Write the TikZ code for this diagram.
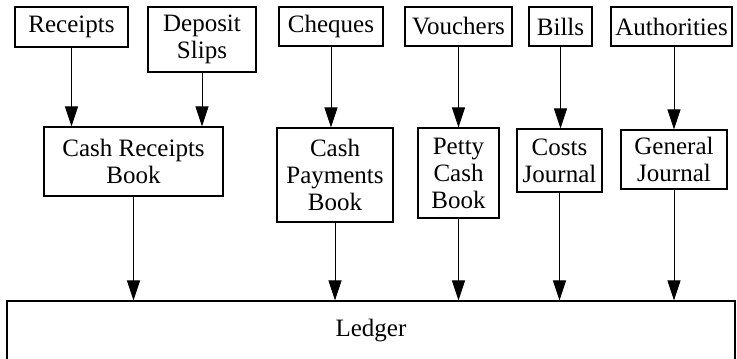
\documentclass[tikz,border=0pt]{standalone}
\usepackage{fontspec}
\setmainfont{Liberation Serif}
\usepackage{tikz}
\usetikzlibrary{arrows.meta}

\begin{document}
\begin{tikzpicture}[x=1pt, y=-1pt, >={Triangle[length=20pt,width=13pt]},
	every node/.style={draw, line width=1.1pt, align=center, inner sep=3pt, font=\fontsize{25}{27}\selectfont}]
				\useasboundingbox (0,0) rectangle (737,359);
				% source documents
				\node[minimum width=113pt, minimum height=40pt] (Receipts) at (71.5,27) {Receipts};
				\node[minimum width=108pt, minimum height=65pt] (Deposit) at (202,39.5) {Deposit\\Slips};
				\node[minimum width=104pt, minimum height=39pt] (Cheques) at (331,26.5) {Cheques};
				\node[minimum width=107pt, minimum height=39pt] (Vouchers) at (458.5,26.5) {Vouchers};
				\node[minimum width=63pt, minimum height=39pt] (Bills) at (560.5,26.5) {Bills};
				\node[minimum width=121pt, minimum height=39pt] (Auth) at (671.5,26.5) {Authorities};
				% books of original entry
				\node[minimum width=179pt, minimum height=69pt] (CRB) at (133.5,161.5) {Cash Receipts\\Book};
				\node[minimum width=116pt, minimum height=94pt] (CPB) at (335,175) {Cash\\Payments\\Book};
				\node[minimum width=81pt, minimum height=90pt] (PCB) at (458.5,173) {Petty\\Cash\\Book};
				\node[minimum width=85pt, minimum height=63pt] (CJ) at (559.5,160.5) {Costs\\Journal};
				\node[minimum width=106pt, minimum height=59pt] (GJ) at (674,159.5) {General\\Journal};
				% ledger
				\node[minimum width=728pt, minimum height=60pt] (Ledger) at (371,331) {Ledger};
				\draw[->, line width=0.9pt] (Receipts.south) -- (Receipts.south |- CRB.north);
				\draw[->, line width=0.9pt] (Deposit.south) -- (Deposit.south |- CRB.north);
				\draw[->, line width=0.9pt] (Cheques.south) -- (Cheques.south |- CPB.north);
				\draw[->, line width=0.9pt] (Vouchers) -- (PCB);
				\draw[->, line width=0.9pt] (Bills.south) -- (Bills.south |- CJ.north);
				\draw[->, line width=0.9pt] (GJ.north |- Auth.south) -- (GJ.north);
				\draw[->, line width=0.9pt] (CRB.south) -- (CRB.south |- Ledger.north);
				\draw[->, line width=0.9pt] (CPB.south) -- (CPB.south |- Ledger.north);
				\draw[->, line width=0.9pt] (PCB.south) -- (PCB.south |- Ledger.north);
				\draw[->, line width=0.9pt] (CJ.south) -- (CJ.south |- Ledger.north);
				\draw[->, line width=0.9pt] (GJ.south) -- (GJ.south |- Ledger.north);
			\end{tikzpicture}
\end{document}
